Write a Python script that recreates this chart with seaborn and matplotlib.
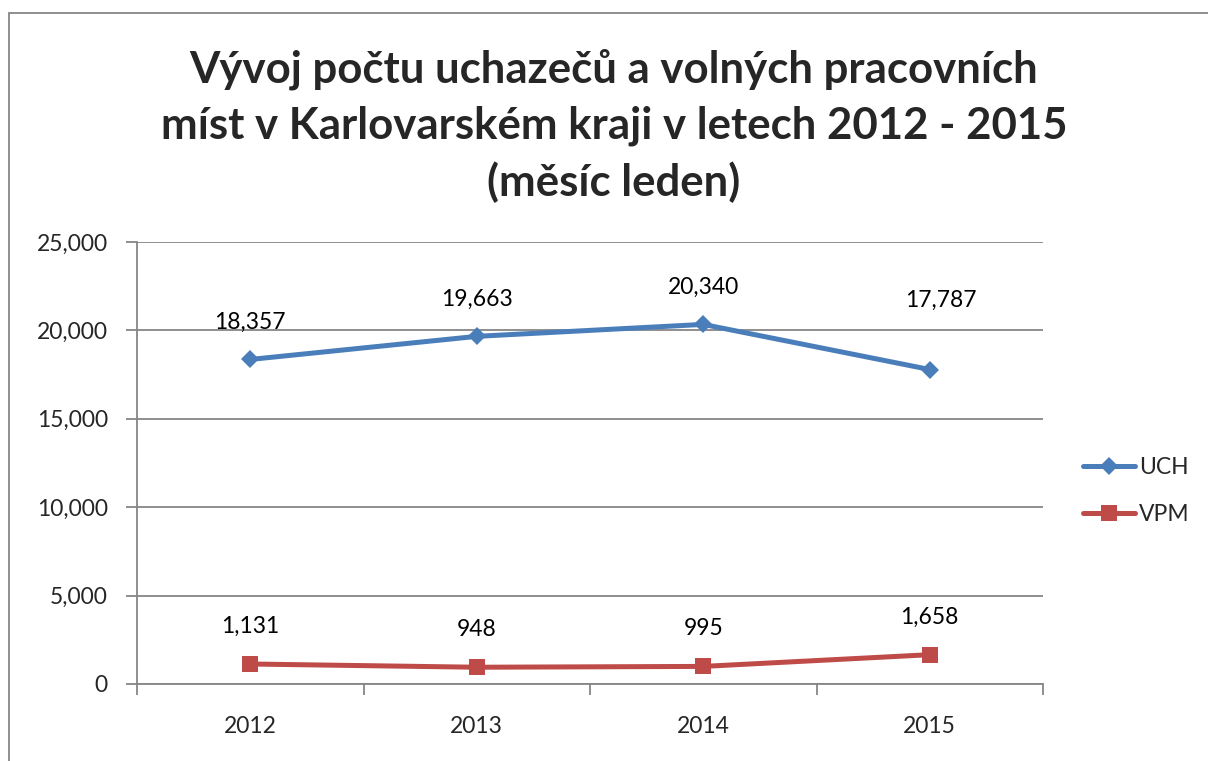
import matplotlib
matplotlib.use("Agg")
import matplotlib.pyplot as plt
import seaborn as sns
import pandas as pd
from matplotlib.patches import Rectangle
from matplotlib.lines import Line2D
from matplotlib.ticker import FuncFormatter, MultipleLocator

years = ["2012", "2013", "2014", "2015"]
uch = [18357, 19663, 20340, 17787]
vpm = [1131, 948, 995, 1658]
series_names = ["UCH", "VPM"]
title = "Vývoj počtu uchazečů a volných pracovních\nmíst v Karlovarském kraji v letech 2012 - 2015\n(měsíc leden)"

sns.set_theme(style="white")
plt.rcParams['font.family'] = ['Lato', 'DejaVu Sans']

df = pd.DataFrame({
    "year": years * 2,
    "pos": list(range(len(years))) * 2,
    "value": uch + vpm,
    "series": [series_names[0]] * 4 + [series_names[1]] * 4,
})

W, H = 1208, 761
fig = plt.figure(figsize=(W / 100, H / 100), dpi=100)
ax = fig.add_axes([137 / W, 1 - 684 / H, (1043 - 137) / W, (684 - 242) / H])

colors = {"UCH": "#4A7EBB", "VPM": "#BE4B48"}
markers = {"UCH": "D", "VPM": "s"}
msize = {"UCH": 9, "VPM": 12}
sns.lineplot(data=df, x="pos", y="value", hue="series", style="series",
             palette=colors, markers=markers, dashes=False, ax=ax,
             linewidth=3.6, markersize=10, markeredgewidth=0, legend=False)
for line, name in zip(ax.get_lines(), series_names):
    line.set_markersize(msize[name])
    line.set_solid_capstyle("round")

ax.set_xlim(-0.5, 3.5)
ax.set_ylim(0, 25000)
ax.yaxis.set_major_locator(MultipleLocator(5000))
ax.yaxis.set_major_formatter(FuncFormatter(lambda v, p: f"{int(v):,}"))
ax.set_xticks(range(len(years)))
ax.set_xticklabels(years)
ax.set_xlabel("")
ax.set_ylabel("")
ax.grid(axis="y", color="#868686", linewidth=1.3)
ax.set_axisbelow(True)
for s in ["top", "right"]:
    ax.spines[s].set_visible(False)
for s in ["left", "bottom"]:
    ax.spines[s].set_color("#868686")
    ax.spines[s].set_linewidth(1.3)
ax.tick_params(axis="y", which="major", length=8, width=1.3, color="#868686",
               labelsize=16.5, pad=13, direction="out", left=True)
ax.tick_params(axis="x", which="major", length=0, labelsize=16.5, pad=23)
ax.set_xticks([-0.5, 0.5, 1.5, 2.5, 3.5], minor=True)
ax.tick_params(axis="x", which="minor", length=8, width=1.3, color="#868686",
               direction="out", bottom=True)

for si, vals in enumerate((uch, vpm)):
    for i, v in enumerate(vals):
        off = (0, 27)
        if si == 0 and i == len(vals) - 1:
            off = (8, 50)  # label placed higher, as in the original
        ax.annotate(f"{v:,}", (i, v), xytext=off, textcoords="offset points",
                    ha="center", va="center", fontsize=16.5, color="black")

handles = [Line2D([], [], color=colors[n], marker=markers[n], linewidth=3.6,
                  markersize=msize[n], markeredgewidth=0, solid_capstyle="round")
           for n in series_names]
fig.legend(handles, series_names, loc="center left",
           bbox_to_anchor=(1062 / W, 1 - 491 / H), frameon=False,
           fontsize=16.5, handlelength=2.3, handletextpad=0.15, labelspacing=1.1)

fig.text(614 / W, 1 - 126 / H, title, ha="center", va="center",
         fontsize=31.5, fontweight="bold", linespacing=1.45)

fig.patches.append(Rectangle((9 / W, -0.1), 1.2, 1 - 13 / H + 0.1,
                             transform=fig.transFigure, fill=False,
                             edgecolor="#868686", linewidth=1.3))

fig.savefig("out.png", dpi=100)
